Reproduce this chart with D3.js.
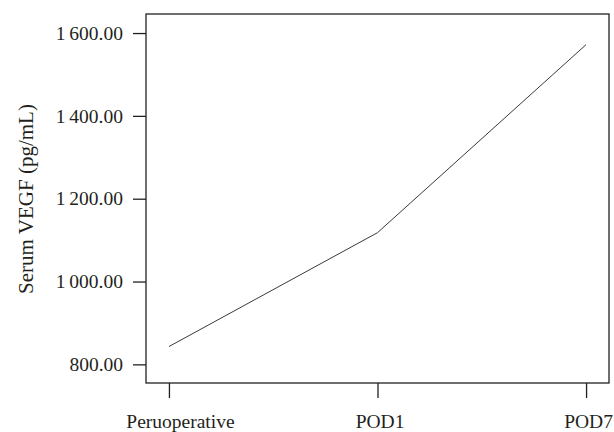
<!DOCTYPE html>
<html>
<head>
<meta charset="utf-8">
<script src="https://cdn.jsdelivr.net/npm/d3@7"></script>
<style>
  body { margin: 0; background: #fff; }
  text { font-family: "Liberation Serif", "DejaVu Serif", serif; fill: #231f20; }
</style>
</head>
<body>
<div id="chart"></div>
<script>
// Datos
const categories = ["Peruoperative", "POD1", "POD7"];
const values = [843, 1118, 1572];
const yTicks = [800, 1000, 1200, 1400, 1600];
const yLabel = "Serum VEGF (pg/mL)";

const width = 614, height = 432;
const mLeft = 146, mRight = 609, mTop = 14, mBottom = 383;

const svg = d3.select("#chart").append("svg")
    .attr("width", width)
    .attr("height", height);

// Escalas
const x = d3.scalePoint().domain(categories).range([mLeft, mRight]).padding(0.11);
const y = d3.scaleLinear().domain([755, 1646]).range([mBottom, mTop]);

const fmt = d3.formatLocale({ decimal: ".", thousands: "\u2009", grouping: [3], currency: ["", ""] }).format(",.2f");

// Marco
svg.append("rect")
    .attr("x", mLeft).attr("y", mTop)
    .attr("width", mRight - mLeft).attr("height", mBottom - mTop)
    .attr("fill", "none")
    .attr("stroke", "#231f20")
    .attr("stroke-width", 1.3);

// Eje Y
const yAxis = svg.append("g")
    .attr("transform", `translate(${mLeft},0)`)
    .call(d3.axisLeft(y).tickValues(yTicks).tickSize(13).tickPadding(10).tickFormat(fmt));
yAxis.select(".domain").remove();
yAxis.selectAll(".tick line").attr("stroke", "#231f20").attr("stroke-width", 1.3);
yAxis.selectAll(".tick text").style("font-size", "19.5px").attr("fill", "#231f20");

// Eje X
const xAxis = svg.append("g")
    .attr("transform", `translate(0,${mBottom})`)
    .call(d3.axisBottom(x).tickSize(15).tickPadding(16));
xAxis.select(".domain").remove();
xAxis.selectAll(".tick line").attr("stroke", "#231f20").attr("stroke-width", 1.3);
xAxis.selectAll(".tick text").style("font-size", "19.5px").attr("fill", "#231f20")
    .attr("dx", (d, i) => i === 0 ? 11 : 2);

// Título eje Y
svg.append("text")
    .attr("transform", `translate(33,199) rotate(-90)`)
    .attr("text-anchor", "middle")
    .style("font-size", "21px")
    .text(yLabel);

// Línea
svg.append("path")
    .datum(values)
    .attr("fill", "none")
    .attr("stroke", "#3a3a3a")
    .attr("stroke-width", 1)
    .attr("d", d3.line()
        .x((d, i) => x(categories[i]))
        .y(d => y(d)));
</script>
</body>
</html>
